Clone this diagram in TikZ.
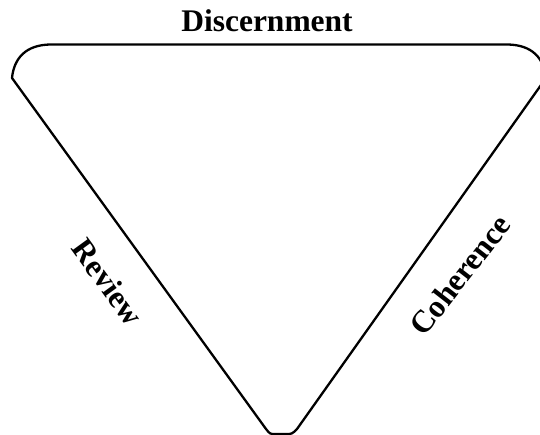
\documentclass[tikz,border=0pt]{standalone}
\usepackage{fontspec}
\setmainfont{Liberation Serif}
\begin{document}
\begin{tikzpicture}[x=1pt,y=-1pt,
  lbl/.style={font=\fontsize{31.5}{36}\selectfont\bfseries, inner sep=0pt},
  edge/.style={line width=2.3pt, line join=round}]
\useasboundingbox (0,0) rectangle (540,435);
\draw[edge] (50,44.5) .. controls (26,45) and (14,58) .. (12,78)
  -- (266,429) .. controls (270,434) .. (275,434) -- (286,434)
  .. controls (292,434) .. (297,429) -- (546,78)
  .. controls (544,58) and (532,45) .. (508,44.5) -- cycle;
\node[lbl, anchor=base] (disc) at (267,32) {Discernment};
\node[lbl, rotate=-54] (rev) at (108,282) {Review};
\node[lbl, rotate=52] (coh) at (460,275) {Coherence};
\end{tikzpicture}
\end{document}
